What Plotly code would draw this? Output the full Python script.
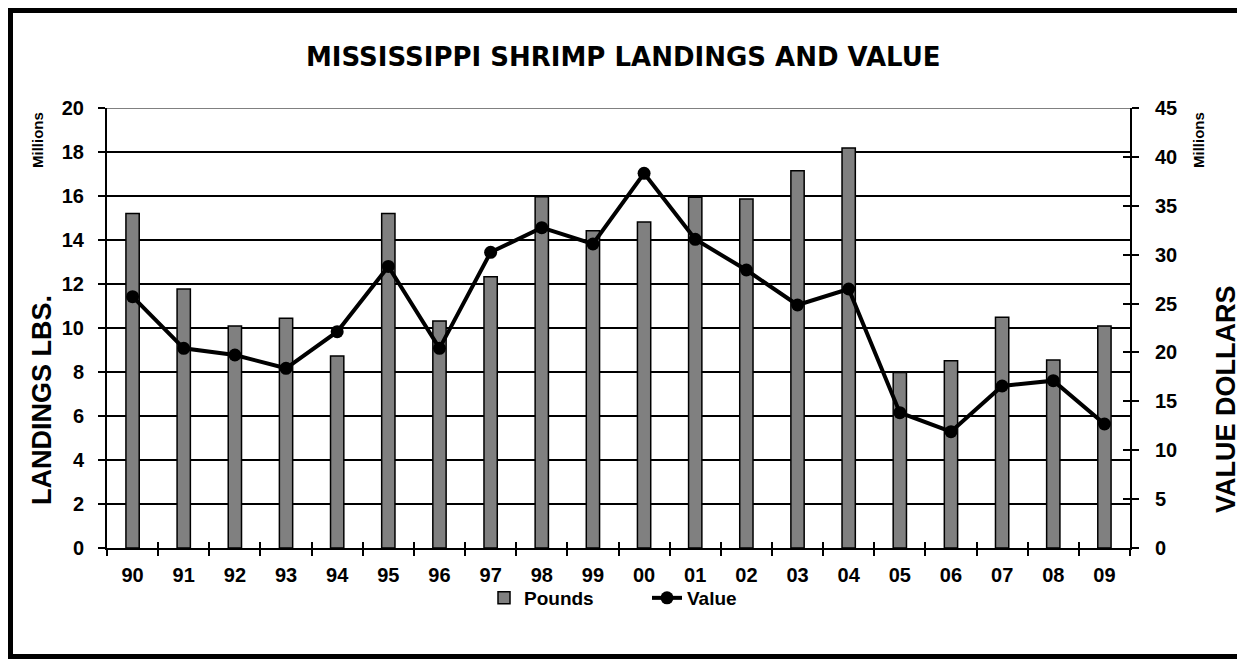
import plotly.graph_objects as go

years = ["90", "91", "92", "93", "94", "95", "96", "97", "98", "99",
         "00", "01", "02", "03", "04", "05", "06", "07", "08", "09"]
pounds_millions = [15.2, 11.77, 10.09, 10.44, 8.73, 15.2, 10.32, 12.33, 15.97, 14.42,
                   14.82, 15.94, 15.86, 17.15, 18.18, 7.98, 8.51, 10.49, 8.55, 10.09]
value_millions = [25.7, 20.42, 19.74, 18.38, 22.12, 28.8, 20.42, 30.24, 32.76, 31.09,
                  38.32, 31.57, 28.43, 24.85, 26.49, 13.84, 11.9, 16.57, 17.11, 12.68]

OFF = 8  # page body margin
W, H = 1245 - OFF, 660 - OFF
# plot area in page px, converted to figure px
L, R, T, B = 107 - OFF, 1130 - OFF, 108 - OFF, 548 - OFF


def px_x(x):
    return (x - OFF - L) / (R - L)


def px_y(y):
    return (B - (y - OFF)) / (B - T)


BOLD = "Liberation Sans, Arial, sans-serif"

fig = go.Figure()
fig.add_trace(go.Bar(
    x=years, y=pounds_millions, name="Pounds",
    marker=dict(color="#808080", line=dict(color="black", width=1.5)),
    width=0.26,
))
fig.add_trace(go.Scatter(
    x=years, y=value_millions, name="Value", yaxis="y2",
    mode="lines+markers",
    line=dict(color="black", width=4),
    marker=dict(color="black", size=13, symbol="circle"),
))
# helper trace so the overlay axes (inside halves of crossing ticks) are drawn
fig.add_trace(go.Scatter(x=[None], y=[None], xaxis="x2", yaxis="y3",
                         showlegend=False, hoverinfo="skip"))

tickfont = dict(family=BOLD, size=20, color="black", weight="bold")

fig.update_layout(
    width=W, height=H,
    margin=dict(l=L, r=W - R, t=T, b=H - B),
    paper_bgcolor="white", plot_bgcolor="white",
    font=dict(family=BOLD, color="black"),
    showlegend=True,
    legend=dict(orientation="h", x=px_x(484), xanchor="left", y=px_y(598), yanchor="middle",
                font=dict(family=BOLD, size=19, color="black", weight="bold"),
                itemwidth=30, entrywidth=118, entrywidthmode="pixels",
                tracegroupgap=0, bgcolor="rgba(0,0,0,0)"),
    xaxis=dict(type="category", tickson="boundaries", ticks="outside", ticklen=6,
               tickcolor="black", tickwidth=1.5, showline=True, linecolor="black",
               linewidth=2, showgrid=False, tickfont=tickfont, ticklabelstandoff=8,
               range=[-0.5, 19.5]),
    xaxis2=dict(overlaying="x", range=[0, 20], tickmode="linear", tick0=0, dtick=1,
                ticks="inside", ticklen=6, tickcolor="black", tickwidth=1.5,
                showticklabels=False, showgrid=False, showline=False, zeroline=False,
                anchor="y", side="bottom"),
    yaxis=dict(range=[0, 20], tickmode="linear", tick0=0, dtick=2,
               showgrid=True, gridcolor="black", gridwidth=1.5,
               showline=True, linecolor="black", linewidth=2,
               ticks="outside", ticklen=7, tickcolor="black", tickwidth=1.5,
               zeroline=False, tickfont=tickfont, ticklabelstandoff=10),
    yaxis2=dict(range=[0, 45], tickmode="linear", tick0=0, dtick=5,
                overlaying="y", side="right", anchor="x",
                showgrid=False, showline=True, linecolor="black", linewidth=2,
                ticks="outside", ticklen=7, tickcolor="black", tickwidth=1.5,
                zeroline=False, tickfont=tickfont, ticklabelstandoff=12),
    yaxis3=dict(range=[0, 45], tickmode="linear", tick0=0, dtick=5,
                overlaying="y", side="right", anchor="x",
                showgrid=False, showline=False, ticks="inside", ticklen=7,
                tickcolor="black", tickwidth=1.5, showticklabels=False, zeroline=False),
    shapes=[
        dict(type="line", xref="paper", yref="y", x0=0, x1=1, y0=20, y1=20,
             line=dict(color="#808080", width=2), layer="above"),
        dict(type="rect", xref="paper", yref="paper",
             x0=px_x(10.5), x1=px_x(1239.5), y0=px_y(656.5), y1=px_y(10.5),
             line=dict(color="black", width=5), layer="above"),
    ],
    annotations=[
        dict(text="MISSISSIPPI SHRIMP LANDINGS AND VALUE", xref="paper", yref="paper",
             x=px_x(623), y=px_y(57), xanchor="center", yanchor="middle", showarrow=False,
             font=dict(family="DejaVu Sans, sans-serif", size=26, color="black", weight="bold")),
        dict(text="LANDINGS LBS.", xref="paper", yref="paper", textangle=-90,
             x=px_x(42), y=px_y(400), xanchor="center", yanchor="middle", showarrow=False,
             font=dict(family=BOLD, size=27, color="black", weight="bold")),
        dict(text="VALUE DOLLARS", xref="paper", yref="paper", textangle=-90,
             x=px_x(1226), y=px_y(399), xanchor="center", yanchor="middle", showarrow=False,
             font=dict(family=BOLD, size=27, color="black", weight="bold")),
        dict(text="Millions", xref="paper", yref="paper", textangle=-90,
             x=px_x(37), y=px_y(140), xanchor="center", yanchor="middle", showarrow=False,
             font=dict(family=BOLD, size=15, color="black", weight="bold")),
        dict(text="Millions", xref="paper", yref="paper", textangle=-90,
             x=px_x(1198), y=px_y(140), xanchor="center", yanchor="middle", showarrow=False,
             font=dict(family=BOLD, size=15, color="black", weight="bold")),
    ],
)

fig.write_html("out.html")
